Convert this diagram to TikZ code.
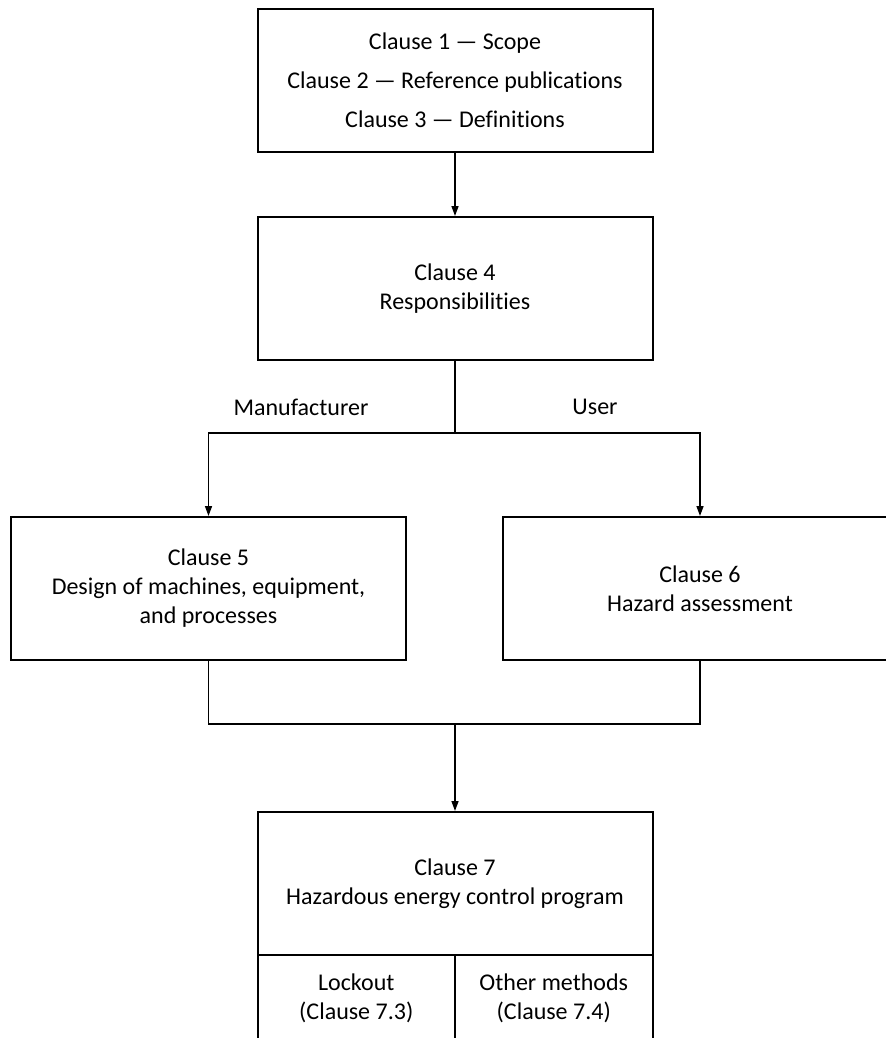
\documentclass[tikz,border=0pt]{standalone}
\usepackage{fontspec}
\setmainfont{Carlito}[RawFeature=-liga]
\usetikzlibrary{arrows.meta}

\tikzstyle{clause box}=[draw,line width=1pt,minimum width=197.5pt,
    minimum height=71.5pt,inner sep=0pt,align=center,
    font=\fontsize{12}{14.5}\selectfont]
\tikzstyle{method box}=[clause box,minimum width=98.75pt,minimum height=43pt]
\tikzstyle{branch label}=[font=\fontsize{12}{14.5}\selectfont]
\tikzstyle{link}=[line width=0.75pt]
\tikzstyle{flow}=[link,-{Triangle[length=5pt,width=3.5pt]}]

\begin{document}
\begin{tikzpicture}[x=0.5pt,y=-0.5pt]
    \useasboundingbox (0,0) rectangle (886,1038);
    \clip (0,0) rectangle (886,1038);
    %
    \node[clause box] (C1) at (455,80.5)
        {Clause 1 --- Scope\\[5pt]Clause 2 --- Reference publications\\[5pt]Clause 3 --- Definitions};
    \node[clause box] (C4) at (455,288.5) {Clause 4\\Responsibilities};
    \node[clause box] (C5) at (208.5,588.5)
        {Clause 5\\Design of machines, equipment,\\and processes};
    \node[clause box] (C6) at (700,588.5) {Clause 6\\Hazard assessment};
    \node[clause box] (C7) at (455,883.5) {Clause 7\\Hazardous energy control program};
    \node[method box] (lockout) at (356.25,998) {Lockout\\(Clause 7.3)};
    \node[method box] (other) at (553.75,998) {Other methods\\(Clause 7.4)};
    %
    \node[branch label] (manufacturer) at (301,407) {Manufacturer};
    \node[branch label] (user) at (595,407) {User};
    %
    \coordinate (split) at (455,433);
    \coordinate (join) at (455,724);
    %
    \draw[flow] (C1) -- (C4);
    \draw[link] (C4) -- (split);
    \draw[flow] (split) -| (C5);
    \draw[flow] (split) -| (C6);
    \draw[link] (C5) |- (join) -| (C6);
    \draw[flow] (join) -- (C7);
\end{tikzpicture}
\end{document}
